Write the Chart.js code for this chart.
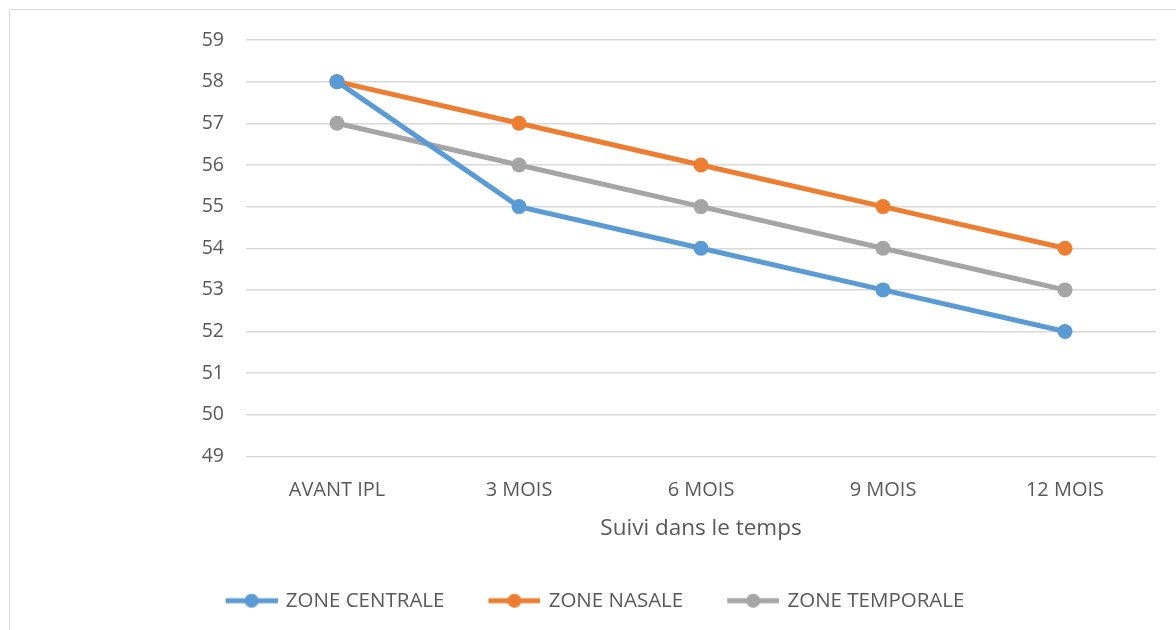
<!DOCTYPE html>
<html>
<head>
<meta charset="utf-8">
<script src="https://cdn.jsdelivr.net/npm/chart.js@4/dist/chart.umd.min.js"></script>
<style>
  html, body { margin: 0; padding: 0; background: #fff; }
  #wrap { position: relative; width: 1176px; height: 630px; overflow: hidden; }
  #frame { position: absolute; left: 9px; top: 9px; width: 1200px; height: 700px; border: 1px solid #d9d9d9; box-sizing: border-box; }
  canvas { position: absolute; left: 0; top: 0; }
</style>
</head>
<body>
<div id="wrap">
  <div id="frame"></div>
  <canvas id="chart" width="1176" height="630"></canvas>
</div>
<script>
// Suivi dans le temps, par zone
const timepoints = ['AVANT IPL', '3 MOIS', '6 MOIS', '9 MOIS', '12 MOIS'];
const zoneCentrale = [58, 55, 54, 53, 52];
const zoneNasale = [58, 57, 56, 55, 54];
const zoneTemporale = [57, 56, 55, 54, 53];
const yMin = 49;
const yMax = 59;

const BLUE = '#5b9bd5';
const ORANGE = '#ed7d31';
const GRAY = '#a5a5a5';
const TEXT = '#595959';
const FONT = "'Open Sans', sans-serif";

// Excel-style legend swatch: line with a dot in the middle, with some blank on the left
// so items get the wider spacing of the original.
const SWATCH_GAP = 36;
const SWATCH_W = 52;
function legendSwatch(color) {
  const h = 16;
  const c = document.createElement('canvas');
  c.width = SWATCH_GAP + SWATCH_W;
  c.height = h;
  const g = c.getContext('2d');
  g.strokeStyle = color;
  g.lineWidth = 5;
  g.beginPath();
  g.moveTo(SWATCH_GAP, h / 2);
  g.lineTo(SWATCH_GAP + SWATCH_W, h / 2);
  g.stroke();
  g.fillStyle = color;
  g.beginPath();
  g.arc(SWATCH_GAP + SWATCH_W / 2, h / 2, 7, 0, Math.PI * 2);
  g.fill();
  return c;
}

function series(label, data, color) {
  return {
    label,
    data,
    borderColor: color,
    backgroundColor: color,
    borderWidth: 5,
    pointRadius: 7.5,
    pointHoverRadius: 7.5,
    pointBorderWidth: 0,
    pointStyle: 'circle',
    legendStyle: legendSwatch(color),
    tension: 0,
    fill: false,
  };
}

const datasets = [
  series('ZONE CENTRALE', zoneCentrale, BLUE),
  series('ZONE NASALE', zoneNasale, ORANGE),
  series('ZONE TEMPORALE', zoneTemporale, GRAY),
];

new Chart(document.getElementById('chart').getContext('2d'), {
  type: 'line',
  data: { labels: timepoints, datasets },
  options: {
    responsive: false,
    animation: false,
    layout: { padding: { top: 40, left: 0, right: 20, bottom: 9 } },
    scales: {
      x: {
        offset: true,
        grid: { display: false, drawTicks: false },
        border: { display: false },
        ticks: { color: TEXT, font: { family: FONT, size: 20 }, padding: 22, maxRotation: 0 },
        title: {
          display: true,
          text: 'Suivi dans le temps',
          color: TEXT,
          font: { family: FONT, size: 22.5 },
          padding: { top: 0, bottom: 38 },
        },
        afterFit: (scale) => { scale.height = 124; },
      },
      y: {
        min: yMin,
        max: yMax,
        grid: { color: '#d9d9d9', lineWidth: 1.5, drawTicks: false },
        border: { display: false },
        ticks: { stepSize: 1, color: TEXT, font: { family: FONT, size: 19.5 }, padding: 22 },
        afterFit: (scale) => { scale.width = 246; },
      },
    },
    plugins: {
      legend: {
        position: 'bottom',
        labels: {
          color: TEXT,
          font: { family: FONT, size: 20.5 },
          usePointStyle: true,
          pointStyleWidth: SWATCH_GAP + SWATCH_W - 4,
          padding: 10,
          generateLabels: (chart) => chart.data.datasets.map((d, i) => ({
            text: d.label,
            pointStyle: d.legendStyle,
            fillStyle: d.borderColor,
            strokeStyle: d.borderColor,
            lineWidth: 0,
            fontColor: TEXT,
            hidden: false,
            datasetIndex: i,
          })),
        },
      },
      tooltip: { enabled: false },
    },
  },
});
</script>
</body>
</html>
